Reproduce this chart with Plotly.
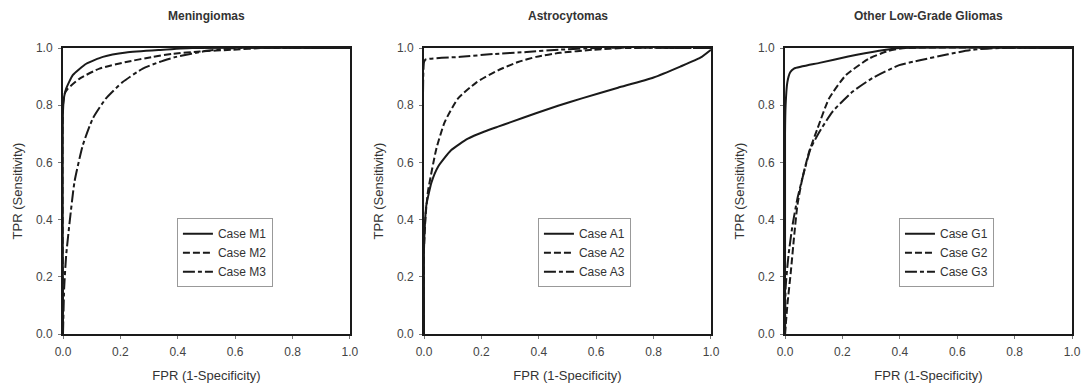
import plotly.graph_objects as go

# ---------------- data ----------------
panel_titles = ["Meningiomas", "Astrocytomas", "Other Low-Grade Gliomas"]
tick_vals = [0.0, 0.2, 0.4, 0.6, 0.8, 1.0]
tick_text = ["0.0", "0.2", "0.4", "0.6", "0.8", "1.0"]

m1_fpr = [0.0, 0.0, 0.004, 0.011, 0.034, 0.081, 0.139, 0.22, 0.336, 0.45, 1.0]
m1_tpr = [0.0, 0.78, 0.83, 0.858, 0.905, 0.945, 0.969, 0.984, 0.993, 1.0, 1.0]
m2_fpr = [0.0, 0.0, 0.006, 0.017, 0.058, 0.127, 0.22, 0.313, 0.383, 0.477, 0.59, 0.70, 1.0]
m2_tpr = [0.0, 0.80, 0.84, 0.858, 0.893, 0.928, 0.951, 0.969, 0.98, 0.988, 0.994, 1.0, 1.0]
m3_fpr = [0.0, 0.004, 0.011, 0.023, 0.04, 0.069, 0.104, 0.15, 0.208, 0.278, 0.336, 0.394, 0.50, 0.60, 1.0]
m3_tpr = [0.0, 0.16, 0.275, 0.39, 0.532, 0.66, 0.754, 0.824, 0.881, 0.928, 0.951, 0.969, 0.99, 1.0, 1.0]

a1_fpr = [0.0, 0.0, 0.004, 0.008, 0.026, 0.049, 0.095, 0.153, 0.211, 0.258, 0.30, 0.39, 0.467, 0.55, 0.676, 0.80, 0.893, 0.963, 1.0]
a1_tpr = [0.0, 0.30, 0.40, 0.45, 0.53, 0.585, 0.643, 0.683, 0.708, 0.725, 0.74, 0.772, 0.798, 0.824, 0.861, 0.897, 0.935, 0.966, 0.994]
a2_fpr = [0.0, 0.0, 0.006, 0.014, 0.043, 0.072, 0.118, 0.183, 0.258, 0.328, 0.391, 0.474, 0.59, 0.70, 1.0]
a2_tpr = [0.0, 0.30, 0.42, 0.50, 0.648, 0.741, 0.823, 0.88, 0.922, 0.951, 0.969, 0.983, 0.994, 1.0, 1.0]
a3_fpr = [0.0, 0.0, 0.006, 0.128, 0.242, 0.358, 0.47, 0.60, 1.0]
a3_tpr = [0.0, 0.95, 0.96, 0.969, 0.979, 0.986, 0.994, 1.0, 1.0]

g1_fpr = [0.0, 0.0, 0.002, 0.008, 0.018, 0.031, 0.12, 0.22, 0.328, 0.40, 1.0]
g1_tpr = [0.0, 0.70, 0.80, 0.88, 0.915, 0.928, 0.948, 0.97, 0.99, 1.0, 1.0]
g2_fpr = [0.0, 0.008, 0.02, 0.031, 0.043, 0.06, 0.084, 0.113, 0.153, 0.212, 0.293, 0.36, 0.42, 1.0]
g2_tpr = [0.0, 0.10, 0.216, 0.335, 0.45, 0.543, 0.637, 0.718, 0.823, 0.905, 0.963, 0.99, 1.0, 1.0]
g3_fpr = [0.0, 0.002, 0.012, 0.026, 0.043, 0.066, 0.089, 0.12, 0.165, 0.235, 0.305, 0.398, 0.47, 0.568, 0.655, 0.75, 1.0]
g3_tpr = [0.0, 0.16, 0.275, 0.38, 0.473, 0.566, 0.648, 0.707, 0.777, 0.847, 0.895, 0.94, 0.957, 0.978, 0.994, 1.0, 1.0]

series = [
    # (panel index, name, fpr, tpr, dash)
    (0, "Case M1", m1_fpr, m1_tpr, "solid"),
    (0, "Case M2", m2_fpr, m2_tpr, "7px,3px"),
    (0, "Case M3", m3_fpr, m3_tpr, "12px,3px,4px,3px"),
    (1, "Case A1", a1_fpr, a1_tpr, "solid"),
    (1, "Case A2", a2_fpr, a2_tpr, "7px,3px"),
    (1, "Case A3", a3_fpr, a3_tpr, "12px,3px,4px,3px"),
    (2, "Case G1", g1_fpr, g1_tpr, "solid"),
    (2, "Case G2", g2_fpr, g2_tpr, "7px,3px"),
    (2, "Case G3", g3_fpr, g3_tpr, "12px,3px,4px,3px"),
]

# ---------------- figure ----------------
FONT = "Liberation Sans, Arial, sans-serif"
fig = go.Figure()

axis_suffix = ["", "2", "3"]
legend_names = ["legend", "legend2", "legend3"]
for panel, name, xs, ys, dash in series:
    fig.add_trace(go.Scatter(
        x=xs, y=ys, mode="lines", name=name,
        line=dict(color="#1a1a1a", width=2, dash=dash, shape="spline", smoothing=0.5),
        xaxis="x" + axis_suffix[panel], yaxis="y" + axis_suffix[panel],
        legend=legend_names[panel], showlegend=True,
    ))

x_domains = [[0.0, 0.2844], [0.3578, 0.6422], [0.7156, 1.0]]

def axis_common(title):
    return dict(
        range=[0, 1], tickvals=tick_vals, ticktext=tick_text,
        showgrid=False, zeroline=False, automargin=False,
        showline=True, linecolor="#1a1a1a", linewidth=2, mirror=True,
        ticks="outside", ticklen=3, tickwidth=1, tickcolor="#777",
        ticklabelstandoff=3,
        tickfont=dict(family=FONT, size=12, color="#444"),
        title=dict(text=title, font=dict(family=FONT, size=13, color="#333")),
        fixedrange=True,
    )

layout = dict(
    width=1076, height=375,
    margin=dict(l=55, r=12, t=40, b=49, autoexpand=False),
    paper_bgcolor="white", plot_bgcolor="white",
    font=dict(family=FONT, color="#333"),
)

for i in range(3):
    xa = axis_common("FPR (1-Specificity)")
    xa["domain"] = x_domains[i]
    xa["anchor"] = "y" + axis_suffix[i]
    xa["title"]["standoff"] = 14
    ya = axis_common("TPR (Sensitivity)")
    ya["domain"] = [0, 1]
    ya["anchor"] = "x" + axis_suffix[i]
    ya["title"]["standoff"] = 10
    layout["xaxis" + axis_suffix[i]] = xa
    layout["yaxis" + axis_suffix[i]] = ya
    d0, d1 = x_domains[i]
    layout[legend_names[i]] = dict(
        x=d0 + 0.397 * (d1 - d0), y=0.405, xanchor="left", yanchor="top",
        bordercolor="#999", borderwidth=1, bgcolor="white",
        font=dict(family=FONT, size=12, color="#333"),
        tracegroupgap=0, itemwidth=30,
    )

fig.update_layout(**layout)

for i, t in enumerate(panel_titles):
    d0, d1 = x_domains[i]
    fig.add_annotation(
        text="<b>" + t + "</b>", x=(d0 + d1) / 2, y=1, xref="paper", yref="paper",
        yshift=32, showarrow=False, xanchor="center", yanchor="middle",
        font=dict(family=FONT, size=12, color="#333"),
    )

fig.write_html("out.html")
